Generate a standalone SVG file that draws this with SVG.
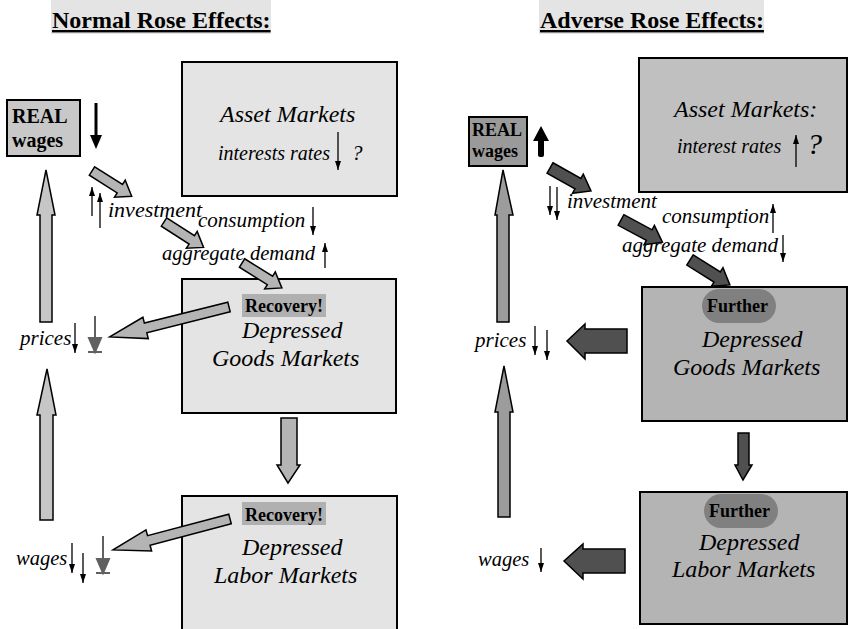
<svg xmlns="http://www.w3.org/2000/svg" width="849" height="629" viewBox="0 0 849 629">
<defs>
  <marker id="tip" markerUnits="userSpaceOnUse" markerWidth="9" markerHeight="6" refX="9" refY="3" orient="auto">
    <path d="M0,0 L9,3 L0,6 z" fill="#000"/>
  </marker>
  <!-- short slanted block arrow, pointing along +x -->
  <polygon id="slantL" points="0,-5 33,-5 33,-10 47,0 33,10 33,5 0,5"/>
  <polygon id="slantR" points="0,-6 32,-6 32,-11 47,0 32,11 32,6 0,6"/>
</defs>
<style>
  .t{font-family:"Liberation Serif","Times New Roman",serif;fill:#000}
  .i{font-style:italic}
  .b{font-weight:bold}
  .box{stroke:#000;stroke-width:2}
  .ga{fill:#b4b4b4;stroke:#000;stroke-width:1.5}
  .gv{fill:#c6c6c6;stroke:#000;stroke-width:1.5}
  .rv{fill:#9c9c9c;stroke:#000;stroke-width:1.5}
  .da{fill:#505050;stroke:#000;stroke-width:1.5}
  .thin{stroke:#000;stroke-width:1.3;fill:none;marker-end:url(#tip)}
  .blk{stroke:#606060;stroke-width:2;fill:#606060}
</style>
<rect width="849" height="629" fill="#fff"/>

<!-- headings -->
<g id="title-normal">
  <rect x="51" y="0" width="220" height="34" fill="#e4e4e4"/>
  <text class="t b" x="52" y="28" font-size="24" text-decoration="underline">Normal Rose Effects:</text>
</g>
<g id="title-adverse">
  <rect x="539" y="0" width="225" height="34" fill="#e4e4e4"/>
  <text class="t b" x="540" y="28" font-size="24" text-decoration="underline">Adverse Rose Effects:</text>
</g>

<!-- ===== normal case ===== -->
<g id="n-real-wages">
  <rect class="box" x="7" y="100" width="73" height="56" fill="#c8c8c8"/>
  <text class="t b" x="12" y="123" font-size="20">REAL</text>
  <text class="t b" x="12" y="147" font-size="20">wages</text>
</g>
<g id="n-asset">
  <rect class="box" x="182" y="62" width="215" height="134" fill="#e4e4e4"/>
  <text class="t i" x="220" y="122" font-size="24">Asset Markets</text>
  <text class="t i" x="218" y="160" font-size="20">interests rates</text>
  <text class="t i" x="352" y="160" font-size="21">?</text>
</g>
<g id="n-goods">
  <rect class="box" x="182" y="279" width="214" height="134" fill="#e4e4e4"/>
  <rect x="242" y="294" width="84" height="23" fill="#b0b0b0"/>
  <text class="t b" x="245" y="312" font-size="18">Recovery!</text>
  <text class="t i" x="242" y="338" font-size="24">Depressed</text>
  <text class="t i" x="212" y="366" font-size="24">Goods Markets</text>
</g>
<g id="n-labor">
  <rect class="box" x="182" y="496" width="215" height="145" fill="#e4e4e4"/>
  <rect x="242" y="502" width="84" height="23" fill="#b0b0b0"/>
  <text class="t b" x="245" y="521" font-size="18">Recovery!</text>
  <text class="t i" x="242" y="555" font-size="24">Depressed</text>
  <text class="t i" x="214" y="583" font-size="24">Labor Markets</text>
</g>
<g id="n-labels">
  <text class="t i" x="108" y="217" font-size="22">investment</text>
  <text class="t i" x="198" y="227" font-size="21">consumption</text>
  <text class="t i" x="162" y="260" font-size="20.6">aggregate demand</text>
  <text class="t i" x="20" y="345" font-size="21">prices</text>
  <text class="t i" x="16" y="565" font-size="20.5">wages</text>
</g>

<!-- ===== adverse case ===== -->
<g id="a-real-wages">
  <rect class="box" x="469" y="117" width="58" height="49" fill="#9a9a9a"/>
  <text class="t b" x="472" y="136" font-size="18">REAL</text>
  <text class="t b" x="472" y="157" font-size="18">wages</text>
</g>
<g id="a-asset">
  <rect class="box" x="639" y="58" width="208" height="134" fill="#c0c0c0"/>
  <text class="t i" x="674" y="117" font-size="24">Asset Markets:</text>
  <text class="t i" x="677" y="153" font-size="20">interest rates</text>
  <text class="t i" x="807" y="154" font-size="30">?</text>
</g>
<g id="a-goods">
  <rect class="box" x="642" y="287" width="205" height="134" fill="#b4b4b4"/>
  <rect x="702" y="289" width="74" height="34" rx="17" fill="#808080"/>
  <text class="t b" x="707" y="312" font-size="18">Further</text>
  <text class="t i" x="702" y="347" font-size="24">Depressed</text>
  <text class="t i" x="673" y="375" font-size="24">Goods Markets</text>
</g>
<g id="a-labor">
  <rect class="box" x="640" y="492" width="207" height="132" fill="#b4b4b4"/>
  <rect x="704" y="494" width="74" height="34" rx="17" fill="#808080"/>
  <text class="t b" x="709" y="517" font-size="18">Further</text>
  <text class="t i" x="699" y="550" font-size="24">Depressed</text>
  <text class="t i" x="672" y="577" font-size="24">Labor Markets</text>
</g>
<g id="a-labels">
  <text class="t i" x="567" y="208" font-size="21">investment</text>
  <text class="t i" x="662" y="223" font-size="21">consumption</text>
  <text class="t i" x="622" y="252" font-size="21">aggregate demand</text>
  <text class="t i" x="475" y="347" font-size="21">prices</text>
  <text class="t i" x="478" y="566" font-size="20.5">wages</text>
</g>

<!-- connectors and change arrows -->
<g id="connectors">
  <!-- normal case: small change indicators -->
  <line class="thin" x1="92" y1="216" x2="92" y2="187"/>
  <line class="thin" x1="100" y1="228" x2="100" y2="193"/>
  <line class="thin" x1="338" y1="132" x2="338" y2="170"/>
  <line class="thin" x1="313" y1="207" x2="313" y2="235"/>
  <line class="thin" x1="325" y1="268" x2="325" y2="243"/>
  <line class="thin" x1="75" y1="323" x2="75" y2="353"/>
  <line class="thin" x1="72" y1="543" x2="72" y2="573"/>
  <line class="thin" x1="83" y1="553" x2="83" y2="583"/>
  <!-- blocked falls -->
  <g class="blk">
    <line x1="95" y1="316" x2="95" y2="339"/>
    <polygon points="89,338 101,338 95,352"/>
    <line x1="88" y1="352" x2="102" y2="352"/>
    <line x1="103" y1="536" x2="103" y2="560"/>
    <polygon points="97,559 109,559 103,573"/>
    <line x1="96" y1="573" x2="110" y2="573"/>
  </g>
  <!-- real wage fall -->
  <rect x="94.5" y="103" width="3" height="33" fill="#000"/>
  <polygon points="90,135 102,135 96,149" fill="#000"/>
  <!-- transmission chain -->
  <use href="#slantL" class="ga" transform="translate(92,171) rotate(32.4)"/>
  <use href="#slantL" class="ga" transform="translate(164,222) rotate(32.7)"/>
  <use href="#slantL" class="ga" transform="translate(242,263) rotate(32)"/>
  <polygon class="ga" transform="translate(229,307) rotate(165.9)" points="0,-5 86,-5 86,-11 123,0 86,11 86,5 0,5"/>
  <polygon class="ga" transform="translate(230,519) rotate(165.2)" points="0,-5 84,-5 84,-11 121,0 84,11 84,5 0,5"/>
  <polygon class="gv" points="46,170 55,215 52,215 52,322 40,322 40,215 37,215"/>
  <polygon class="gv" points="47,369 56,415 53,415 53,520 40,520 40,415 37,415"/>
  <polygon class="ga" points="281,418 297,418 297,465 300,465 288,483 277,465 281,465"/>

  <!-- adverse case: small change indicators -->
  <line class="thin" x1="550" y1="186" x2="550" y2="215"/>
  <line class="thin" x1="557" y1="187" x2="557" y2="220"/>
  <line class="thin" x1="796" y1="167" x2="796" y2="135"/>
  <line class="thin" x1="773" y1="233" x2="773" y2="204"/>
  <line class="thin" x1="783" y1="235" x2="783" y2="262"/>
  <line class="thin" x1="535" y1="326" x2="535" y2="355"/>
  <line class="thin" x1="547" y1="330" x2="547" y2="360"/>
  <line class="thin" x1="541" y1="548" x2="541" y2="572"/>
  <!-- real wage rise -->
  <rect x="538" y="139" width="6" height="18" rx="2" fill="#000"/>
  <polygon points="533,141 549,141 541,126" fill="#000"/>
  <!-- transmission chain -->
  <use href="#slantR" class="da" transform="translate(550,168) rotate(29.3)"/>
  <use href="#slantR" class="da" transform="translate(621,220) rotate(28.2)"/>
  <use href="#slantR" class="da" transform="translate(690,260) rotate(32)"/>
  <polygon class="da" points="627,329 627,353 585,353 585,359 567,341 585,324 585,329"/>
  <polygon class="da" points="625,549 625,573 583,573 583,579 564,561 583,544 583,549"/>
  <polygon class="rv" points="503,170 513,215 509,215 509,322 497,322 497,215 495,215"/>
  <polygon class="rv" points="504,366 513,412 510,412 510,517 498,517 498,412 495,412"/>
  <polygon class="da" points="738,433 749,433 749,465 752,465 743,480 735,465 738,465"/>
</g>
</svg>
